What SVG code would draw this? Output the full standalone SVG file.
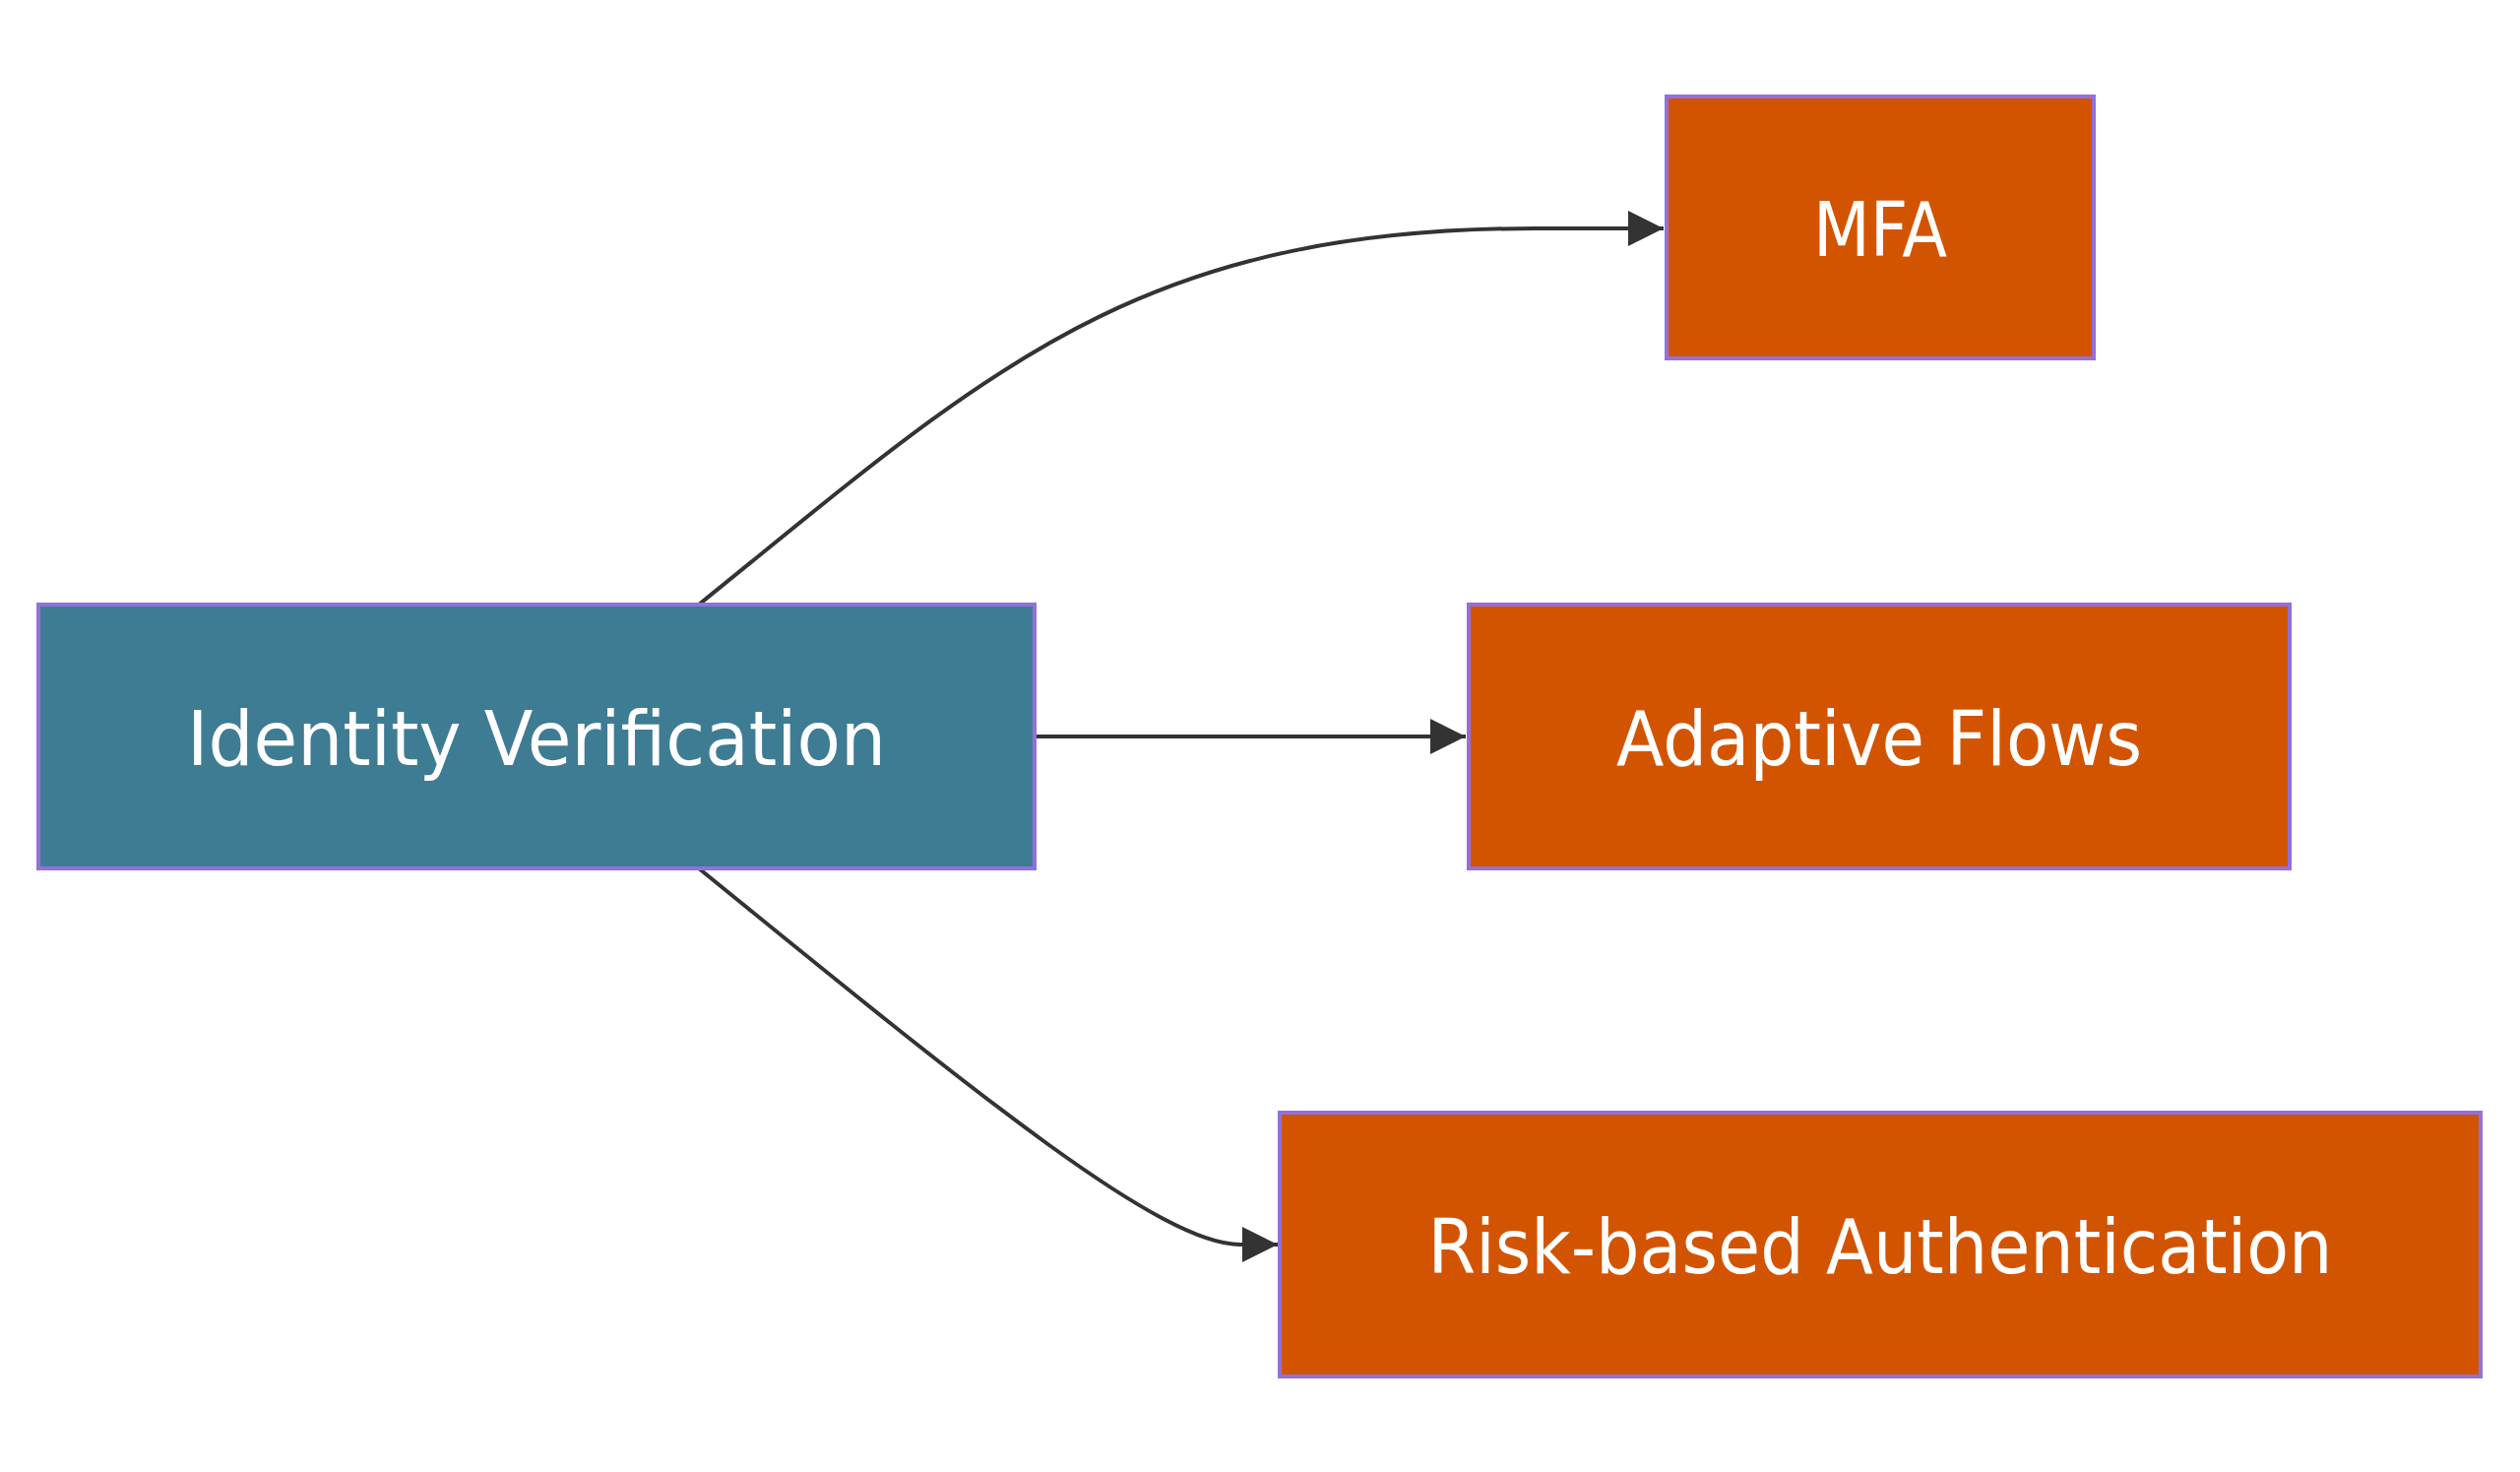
<svg xmlns="http://www.w3.org/2000/svg" width="2560" height="1495" viewBox="0 0 2560 1495">
<style>
.n rect{stroke:#9370DB;stroke-width:4}
.n text{fill:#fff;font-family:"DejaVu Sans",sans-serif;font-size:76px;text-anchor:middle}
.e path{fill:none;stroke:#333;stroke-width:4}
</style>
<defs><marker id="ah" viewBox="0 0 10 10" refX="10" refY="5" markerUnits="userSpaceOnUse" markerWidth="36" markerHeight="36" orient="auto"><path d="M0,0L10,5L0,10z" fill="#333"/></marker></defs>
<rect width="2560" height="1495" fill="#fff"/>
<g class="e">
<path d="M710,614 C1000,380 1150,232 1560,232 L1690,232" marker-end="url(#ah)"/>
<path d="M1051,748 L1489,748" marker-end="url(#ah)"/>
<path d="M710,882 C1000,1118 1180,1264 1260,1264 L1298,1264" marker-end="url(#ah)"/>
</g>
<g id="identity" class="n"><rect x="39" y="614" width="1012" height="268" fill="#3E7C93"/><text x="545" y="777" textLength="710" lengthAdjust="spacingAndGlyphs">Identity Verification</text></g>
<g id="mfa" class="n"><rect x="1693" y="98" width="434" height="266" fill="#D35400"/><text x="1910" y="260" textLength="136" lengthAdjust="spacingAndGlyphs">MFA</text></g>
<g id="adaptive" class="n"><rect x="1492" y="614" width="834" height="268" fill="#D35400"/><text x="1909" y="777" textLength="534" lengthAdjust="spacingAndGlyphs">Adaptive Flows</text></g>
<g id="risk" class="n"><rect x="1300" y="1130" width="1220" height="268" fill="#D35400"/><text x="1910" y="1293" textLength="919" lengthAdjust="spacingAndGlyphs">Risk-based Authentication</text></g>
</svg>
